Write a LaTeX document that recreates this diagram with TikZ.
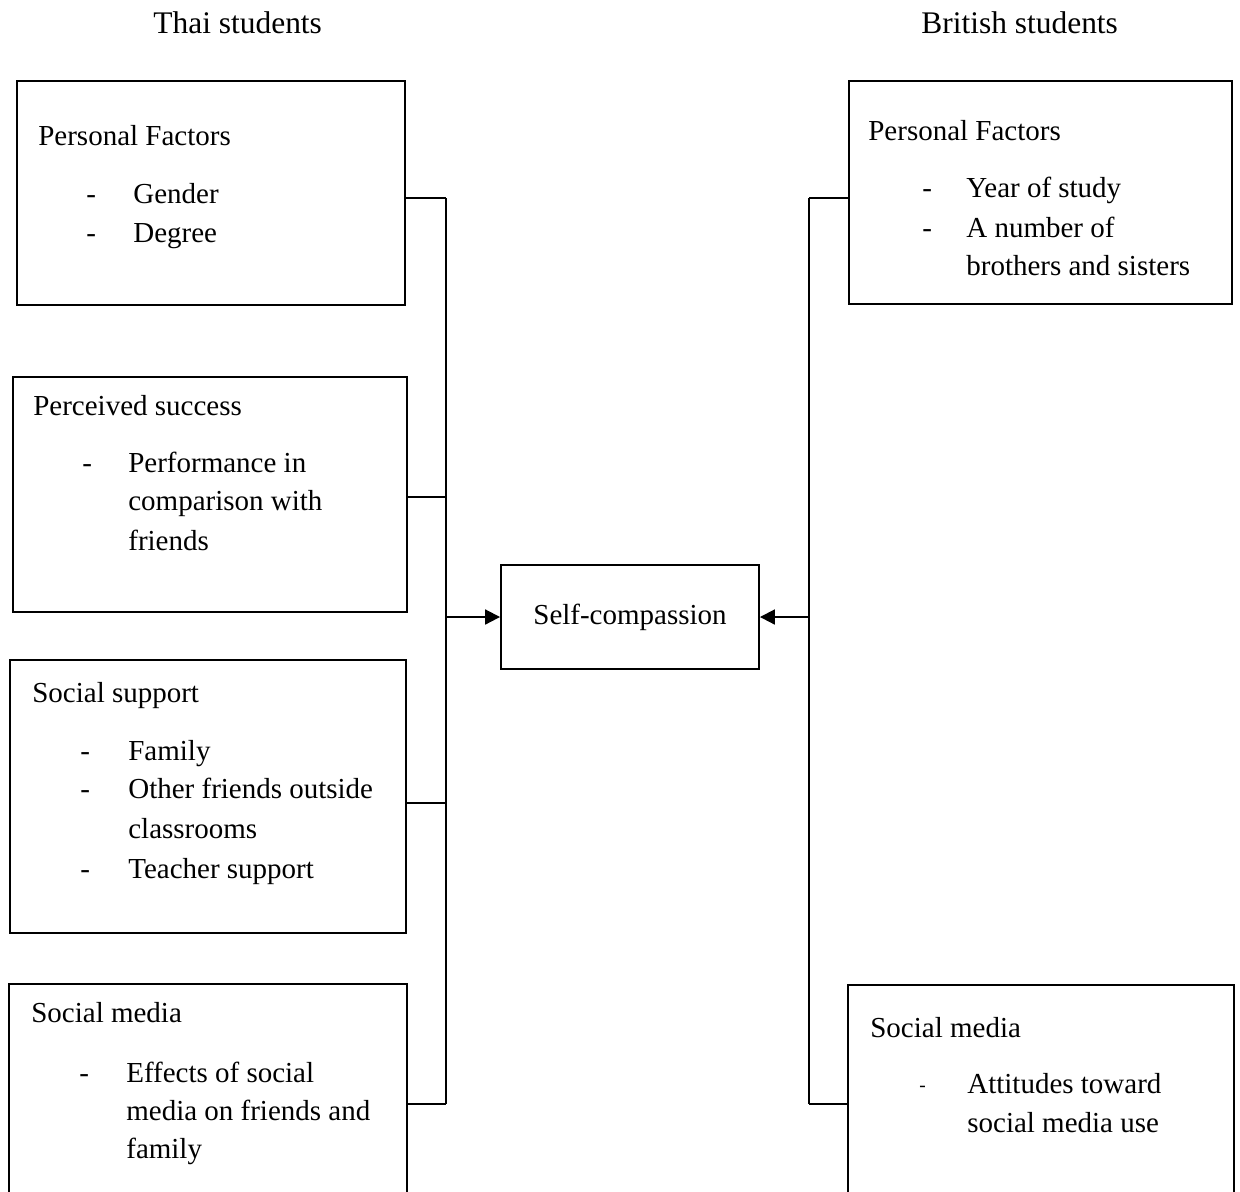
\documentclass[tikz,border=0pt]{standalone}
\usepackage{fontspec}
\setmainfont{Liberation Serif}
\usetikzlibrary{arrows.meta}
\tikzset{
  box/.style={draw, line width=1.1pt, inner sep=0pt},
  txt/.style={anchor=base west, inner sep=0pt, font=\fontsize{16.5}{19}\selectfont},
  smalldash/.style={anchor=base west, inner sep=0pt, font=\fontsize{11}{13}\selectfont},
  heading/.style={anchor=base west, inner sep=0pt, font=\fontsize{17.9}{21}\selectfont},
  bus/.style={line width=1.1pt},
  stub/.style={line width=0.7pt},
  feed/.style={line width=1.1pt, -{Triangle[length=8.5pt,width=8.5pt]}},
}
\begin{document}
\begin{tikzpicture}[x=0.02cm, y=-0.02cm]
\clip (0,0) rectangle (1240,1191);
\fill[white] (0,0) rectangle (1240,1191);

% column headings
\node[heading] (hthai) at (153,33) {Thai students};
\node[heading] (hbrit) at (921,33) {British students};

% factor boxes, Thai side
\node[box, minimum width=7.76cm, minimum height=4.48cm] (b1) at (211,193) {};
\node[box, minimum width=7.88cm, minimum height=4.70cm] (b2) at (210,494.5) {};
\node[box, minimum width=7.92cm, minimum height=5.46cm] (b3) at (208,796.5) {};
\node[box, minimum width=7.96cm, minimum height=5.12cm] (b4) at (208,1112) {};

% factor boxes, British side
\node[box, minimum width=7.66cm, minimum height=4.46cm] (b5) at (1040.5,192.5) {};
\node[box, minimum width=7.72cm, minimum height=5.10cm] (b6) at (1041,1112.5) {};

% outcome
\node[box, minimum width=5.16cm, minimum height=2.08cm,
      font=\fontsize{16.5}{19}\selectfont] (sc) at (630,617) {Self-compassion};

% box texts, Thai side
\node[txt] (p1) at (38,145) {Personal Factors};
\node[txt] (p1d1) at (86,203) {-};
\node[txt] (p1a) at (133,203) {Gender};
\node[txt] (p1d2) at (86,242) {-};
\node[txt] (p1b) at (133,242) {Degree};

\node[txt] (p2) at (33,415) {Perceived success};
\node[txt] (p2d1) at (82,472) {-};
\node[txt] (p2a) at (128,472) {Performance in};
\node[txt] (p2b) at (128,510) {comparison with};
\node[txt] (p2c) at (128,550) {friends};

\node[txt] (p3) at (32,702) {Social support};
\node[txt] (p3d1) at (80,760) {-};
\node[txt] (p3a) at (128,760) {Family};
\node[txt] (p3d2) at (80,798) {-};
\node[txt] (p3b) at (128,798) {Other friends outside};
\node[txt] (p3c) at (128,838) {classrooms};
\node[txt] (p3d3) at (80,878) {-};
\node[txt] (p3e) at (128,878) {Teacher support};

\node[txt] (p4) at (31,1022) {Social media};
\node[txt] (p4d1) at (79,1082) {-};
\node[txt] (p4a) at (126,1082) {Effects of social};
\node[txt] (p4b) at (126,1120) {media on friends and};
\node[txt] (p4c) at (126,1158) {family};

% box texts, British side
\node[txt] (p5) at (868,140) {Personal Factors};
\node[txt] (p5d1) at (922,197) {-};
\node[txt] (p5a) at (966,197) {Year of study};
\node[txt] (p5d2) at (922,237) {-};
\node[txt] (p5b) at (966,237) {A number of};
\node[txt] (p5c) at (966,275) {brothers and sisters};

\node[txt] (p6) at (870,1037) {Social media};
\node[smalldash] (p6d1) at (919,1091) {-};
\node[txt] (p6a) at (967,1093) {Attitudes toward};
\node[txt] (p6b) at (967,1132) {social media use};

% collecting lines
\coordinate (ltop) at (446,198);
\coordinate (l2) at (446,497);
\coordinate (l3) at (446,803);
\coordinate (lbot) at (446,1104);
\coordinate (lmid) at (446,617);
\coordinate (rtop) at (809,198);
\coordinate (rbot) at (809,1104);
\coordinate (rmid) at (809,617);

\draw[bus] (ltop) -- (lbot);
\draw[bus] (rtop) -- (rbot);

\draw[stub] (b1.east |- ltop) -- (ltop);
\draw[stub] (b2.east |- l2) -- (l2);
\draw[stub] (b3.east |- l3) -- (l3);
\draw[stub] (b4.east |- lbot) -- (lbot);
\draw[stub] (b5.west |- rtop) -- (rtop);
\draw[stub] (b6.west |- rbot) -- (rbot);

\draw[feed] (lmid) -- (sc.west);
\draw[feed] (rmid) -- (sc.east);
\end{tikzpicture}
\end{document}
